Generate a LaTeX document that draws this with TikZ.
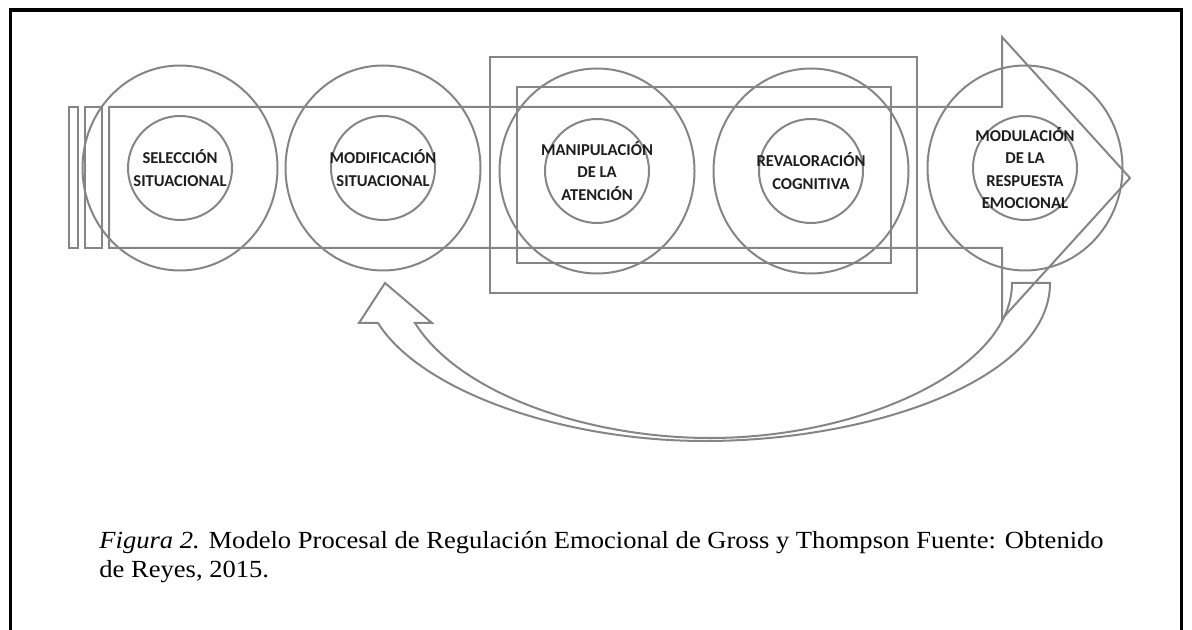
\documentclass[tikz,border=0pt]{standalone}
\usepackage{fontspec}
\setmainfont{Liberation Serif}
\newfontfamily\captionfont[FakeStretch=1.08]{Liberation Serif}
\newfontfamily\stagefont{Carlito}
\usetikzlibrary{shapes.geometric}
\definecolor{grossgray}{HTML}{858585}
\definecolor{grossink}{HTML}{1E1E1E}

\begin{document}
\begin{tikzpicture}[x=0.5pt, y=-0.5pt,
    outline/.style={draw=grossgray, line width=1pt, line join=miter},
    stage/.style={outline, ellipse, minimum width=97.5pt, minimum height=102.5pt, inner sep=0pt},
    core/.style={outline, circle, minimum size=52pt, inner sep=0pt},
    stagetext/.style={font=\stagefont\bfseries\fontsize{8.3}{11.2}\selectfont, text=grossink,
      align=center, inner sep=0pt},
    caption/.style={font=\captionfont\fontsize{12.3}{14.4}\selectfont, align=left, inner sep=0pt},
    frame/.style={draw=black, line width=1.9pt}
  ]
    \useasboundingbox (0,0) rectangle (1192,630);
    \draw[frame] (10.5,640) -- (10.5,10) -- (1181.5,10) -- (1181.5,640);

    \draw[outline] (109,107) -- (1002,107) -- (1002,37) -- (1130,178) -- (1002,319)
      -- (1002,248) -- (109,248) -- cycle;
    \draw[outline] (69,107) rectangle (78,248);
    \draw[outline] (85,107) rectangle (102,248);

    \draw[outline] (490,57) rectangle (917,293);
    \draw[outline] (517,87) rectangle (891,263);

    \node[stage] (seleccion) at (180,168) {};
    \node[core] (seleccioncore) at (seleccion) {};
    \node[stagetext] (seleccionlabel) at (seleccion) {SELECCIÓN\\SITUACIONAL};

    \node[stage] (modificacion) at (383,168) {};
    \node[core] (modificacioncore) at (modificacion) {};
    \node[stagetext] (modificacionlabel) at (modificacion) {MODIFICACIÓN\\SITUACIONAL};

    \node[stage] (atencion) at (597,171) {};
    \node[core] (atencioncore) at (atencion) {};
    \node[stagetext] (atencionlabel) at (atencion) {MANIPULACIÓN\\DE LA\\ATENCIÓN};

    \node[stage] (revaloracion) at (811,171) {};
    \node[core] (revaloracioncore) at (revaloracion) {};
    \node[stagetext] (revaloracionlabel) at (revaloracion) {REVALORACIÓN\\COGNITIVA};

    \node[stage] (modulacion) at (1025,168) {};
    \node[core] (modulacioncore) at (modulacion) {};
    \node[stagetext] (modulacionlabel) at (modulacion) {MODULACIÓN\\DE LA\\RESPUESTA\\EMOCIONAL};

    \draw[outline] (415,323) -- (432,323) -- (385,283) -- (359,323) -- (378,323)
      .. controls (420,390) and (560,441) .. (705,441)
      .. controls (870,441) and (1050,380) .. (1050,283)
      -- (1012,283)
      .. controls (1012,370) and (860,438) .. (710,438)
      .. controls (590,438) and (460,395) .. (415,323) -- cycle;

    \node[caption, anchor=north west] (caption) at (99,531)
      {\textit{Figura 2.} Modelo Procesal de Regulación Emocional de Gross y Thompson Fuente: Obtenido\\de Reyes, 2015.};
  \end{tikzpicture}
\end{document}
